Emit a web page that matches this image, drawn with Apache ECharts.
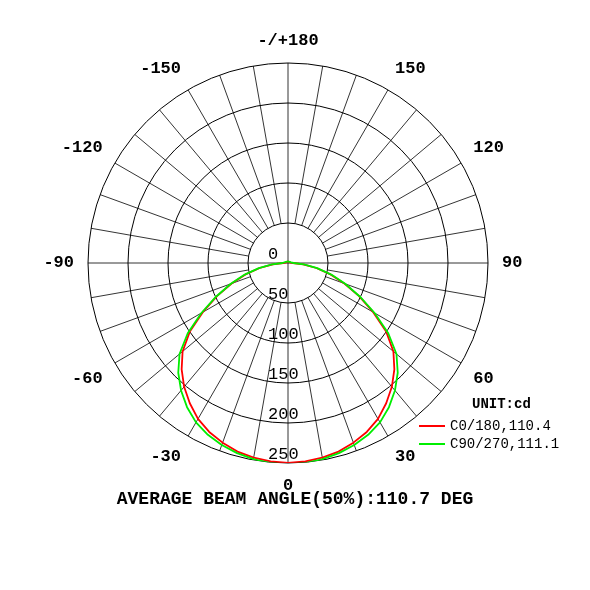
<!DOCTYPE html>
<html><head><meta charset="utf-8">
<script src="https://cdn.jsdelivr.net/npm/echarts@6/dist/echarts.min.js"></script>
<style>html,body{margin:0;background:#fff}#c{width:590px;height:590px}</style>
</head><body><div id="c"></div>
<script>
const angles = [0,5,10,15,20,25,30,35,40,45,50,55,60,65,70,75,80,85,90,100,120,150,180];
const redVals = [250,249,247,244,239,233,225,214,202,188,172,150,123,98,75,55,36,19,6,3,2,2,2];
const greenVals = [252,251,249,246,242,237,230,220,208,194,177,153,125,99,76,56,37,20,7,4,3,2,2];
const radiusTicks = [0,50,100,150,200,250];
const angleLabelStep = 30;
const seriesNames = ['C0/180,110.4','C90/270,111.1'];
const titleText = 'AVERAGE BEAM ANGLE(50%):110.7 DEG';

function sym(vals){
  const out=[];
  for(let i=angles.length-1;i>=0;i--) out.push([vals[i], angles[i]===0?0:360-angles[i]]);
  for(let i=1;i<angles.length;i++) out.push([vals[i], angles[i]]);
  return out;
}
const spokes=[];
for(let a=0;a<360;a+=10){
  const inner=(a%90===0)?0:50;
  spokes.push([inner,a],[250,a],['-','-']);
}
const font='Liberation Mono';
const chart=echarts.init(document.getElementById('c'));
chart.setOption({
  animation:false,
  title:{text:titleText,left:'center',top:485,textStyle:{fontFamily:font,fontSize:18,fontWeight:'bold',color:'#000'}},
  legend:{orient:'vertical',left:414,top:414,itemWidth:26,itemHeight:2,itemGap:4,icon:'rect',
    textStyle:{fontFamily:font,fontSize:14,color:'#000'},data:seriesNames},
  graphic:[{type:'text',left:472,top:397,style:{text:'UNIT:cd',font:'bold 14px "Liberation Mono"',fill:'#000'}}],
  polar:{center:[288,263],radius:200},
  angleAxis:{type:'value',min:0,max:360,interval:10,startAngle:270,clockwise:false,
    axisLine:{show:false},axisTick:{show:false},splitLine:{show:false},
    axisLabel:{margin:14,fontFamily:font,fontSize:17,fontWeight:'bold',color:'#000',
      formatter:v=>{if(v%angleLabelStep!==0||v===360)return '';if(v===180)return '-/+180';return String(v>180?v-360:v);}}},
  radiusAxis:{type:'value',min:0,max:250,interval:50,
    axisLine:{show:false},axisTick:{show:false},
    splitLine:{show:true,lineStyle:{color:'#000',width:1}},
    axisLabel:{fontFamily:font,fontSize:17,color:'#000',margin:-20,verticalAlign:'bottom',
      formatter:v=>radiusTicks.includes(v)?String(v):''}},
  series:[
    {type:'line',coordinateSystem:'polar',data:spokes,symbol:'none',silent:true,
     lineStyle:{color:'#000',width:0.8},connectNulls:false,z:1},
    {name:seriesNames[0],type:'line',coordinateSystem:'polar',data:sym(redVals),symbol:'none',
     lineStyle:{color:'#ff0000',width:1.8},itemStyle:{color:'#ff0000'},z:3},
    {name:seriesNames[1],type:'line',coordinateSystem:'polar',data:sym(greenVals),symbol:'none',
     lineStyle:{color:'#00ee00',width:1.8},itemStyle:{color:'#00ee00'},z:3}
  ]
});
</script></body></html>
